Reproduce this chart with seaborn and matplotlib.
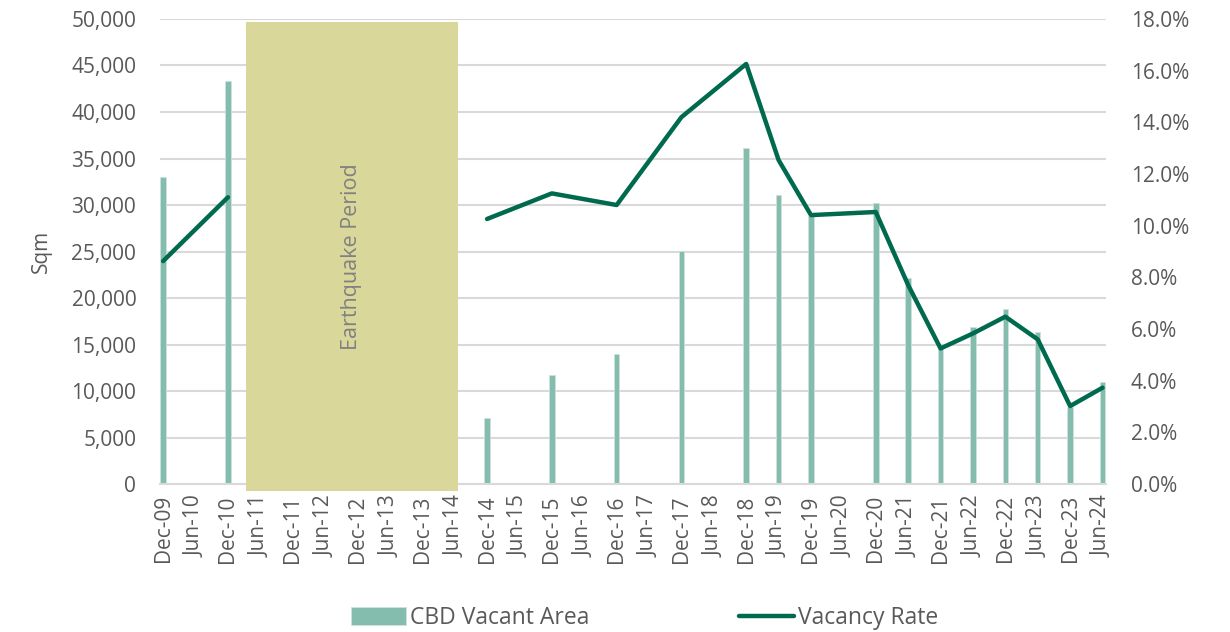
import numpy as np
import pandas as pd
import matplotlib
matplotlib.use("Agg")
import matplotlib.pyplot as plt
import seaborn as sns
from matplotlib.patches import Rectangle
from matplotlib.ticker import FuncFormatter, MultipleLocator

periods = ["Dec-09", "Jun-10", "Dec-10", "Jun-11", "Dec-11", "Jun-12", "Dec-12",
           "Jun-13", "Dec-13", "Jun-14", "Dec-14", "Jun-15", "Dec-15", "Jun-16",
           "Dec-16", "Jun-17", "Dec-17", "Jun-18", "Dec-18", "Jun-19", "Dec-19",
           "Jun-20", "Dec-20", "Jun-21", "Dec-21", "Jun-22", "Dec-22", "Jun-23",
           "Dec-23", "Jun-24"]

# CBD vacant area (sqm), only where reported
area_periods = ["Dec-09", "Dec-10", "Dec-14", "Dec-15", "Dec-16", "Dec-17", "Dec-18",
                "Jun-19", "Dec-19", "Dec-20", "Jun-21", "Dec-21", "Jun-22", "Dec-22",
                "Jun-23", "Dec-23", "Jun-24"]
vacant_area = [33000, 43300, 7100, 11700, 14000, 25100, 36100,
               31100, 28800, 30200, 22200, 14700, 16900, 18800,
               16300, 8300, 11000]

# vacancy rate (%), pre and post earthquake
rate_pre_periods = ["Dec-09", "Dec-10"]
rate_pre = [8.63, 11.1]
rate_post_periods = ["Dec-14", "Dec-15", "Dec-16", "Dec-17", "Dec-18", "Jun-19",
                     "Dec-19", "Dec-20", "Jun-21", "Dec-21", "Jun-22", "Dec-22",
                     "Jun-23", "Dec-23", "Jun-24"]
rate_post = [10.26, 11.25, 10.8, 14.2, 16.26, 12.54,
             10.41, 10.53, 7.7, 5.25, 5.83, 6.48,
             5.6, 3.02, 3.73]

bar_color = "#84BCAD"
line_color = "#006A4E"
quake_color = "#D9D89A"
text_color = "#595959"
grid_color = "#D9D9D9"

sns.set_theme(style="white")
plt.rcParams["font.family"] = ["Open Sans", "DejaVu Sans"]

fig = plt.figure(figsize=(12.3, 6.32), dpi=100)
ax = fig.add_axes([0.130, 0.234, 0.769, 0.736])

area_df = pd.DataFrame({"period": area_periods, "sqm": vacant_area})
sns.barplot(data=area_df, x="period", y="sqm", order=periods, color=bar_color,
            saturation=1, width=0.17, edgecolor="#cde3dc", linewidth=0.6,
            ax=ax, zorder=2, label="CBD Vacant Area")

ax.set_ylim(0, 50000)
ax.set_xlim(-0.1, 29.1)
ax.yaxis.set_major_locator(MultipleLocator(5000))
ax.yaxis.set_major_formatter(FuncFormatter(lambda v, p: f"{v:,.0f}"))
ax.grid(axis="y", color=grid_color, linewidth=1.5, zorder=0)
ax.set_axisbelow(True)
ax.set_xlabel("")
ax.set_ylabel("Sqm", fontsize=15, color=text_color, labelpad=14)
ax.tick_params(axis="y", labelsize=15, labelcolor=text_color, length=0, pad=17)
ax.tick_params(axis="x", labelsize=15, labelcolor=text_color, length=0,
               rotation=90, pad=8)
for s in ["top", "right", "left"]:
    ax.spines[s].set_visible(False)
ax.spines["bottom"].set_color(grid_color)
ax.spines["bottom"].set_linewidth(1.5)

# earthquake period box
ax.add_patch(Rectangle((2.56, -750), 6.54, 50450, facecolor=quake_color,
                       edgecolor="none", zorder=3, clip_on=False))
ax.text(5.83, 24500, "Earthquake Period", rotation=90, ha="center", va="center",
        fontsize=15.5, color="#808080", zorder=4)

ax2 = ax.twinx()
pos = {p: i for i, p in enumerate(periods)}
pre_df = pd.DataFrame({"x": [pos[p] for p in rate_pre_periods], "rate": rate_pre})
post_df = pd.DataFrame({"x": [pos[p] for p in rate_post_periods], "rate": rate_post})
sns.lineplot(data=pre_df, x="x", y="rate", color=line_color, linewidth=3.2,
             ax=ax2, label="Vacancy Rate")
sns.lineplot(data=post_df, x="x", y="rate", color=line_color, linewidth=3.2,
             ax=ax2)
ax2.set_ylim(0, 18)
ax2.set_xlim(-0.1, 29.1)
ax2.yaxis.set_major_locator(MultipleLocator(2))
ax2.yaxis.set_major_formatter(FuncFormatter(lambda v, p: f"{v:.1f}%"))
ax2.set_ylabel("")
ax2.tick_params(axis="y", labelsize=15, labelcolor=text_color, length=0, pad=18)
for s in ax2.spines.values():
    s.set_visible(False)
ax2.grid(False)

h1, l1 = ax.get_legend_handles_labels()
h2, l2 = ax2.get_legend_handles_labels()
if ax2.get_legend():
    ax2.get_legend().remove()
if ax.get_legend():
    ax.get_legend().remove()
fig.legend(h1 + h2, l1 + l2, loc="center", bbox_to_anchor=(0.524, 0.022),
           ncol=2, frameon=False, fontsize=16.5, columnspacing=6.5,
           handlelength=2.4, handleheight=0.8, handletextpad=0.2,
           labelcolor=text_color)

fig.savefig("out.png", dpi=100)
